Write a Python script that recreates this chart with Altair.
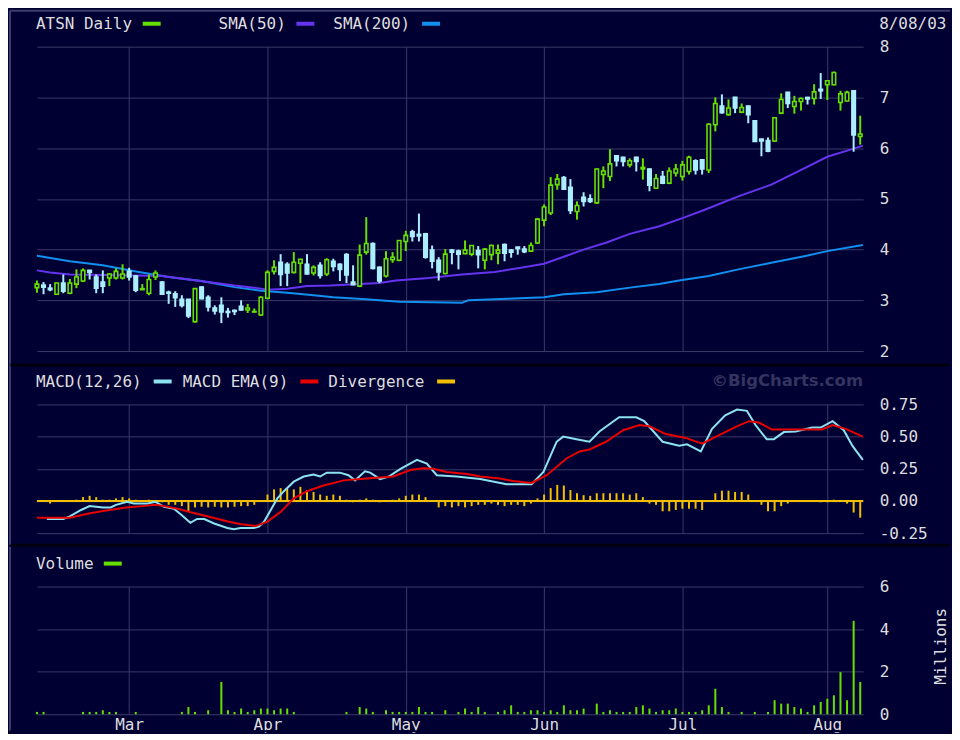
import altair as alt
import pandas as pd

# ---------------- data ----------------
month_idx = [14, 35, 56, 77, 98, 120]
month_names = ["Mar", "Apr", "May", "Jun", "Jul", "Aug"]
price_ticks = [2, 3, 4, 5, 6, 7, 8]
macd_ticks = [-0.25, 0, 0.25, 0.5, 0.75]
volume_ticks = [0, 2, 4, 6]

opens = [3.25, 3.30, 3.24, 3.12, 3.34, 3.14, 3.32, 3.38, 3.59, 3.46,
         3.36, 3.44, 3.44, 3.44, 3.57, 3.48, 3.21, 3.14, 3.46, 3.36,
         3.16, 3.13, 3.02, 3.02, 2.58, 3.26, 3.06, 2.85, 2.90, 2.78,
         2.80, 2.88, 2.81, 2.77, 2.71, 3.04, 3.57, 3.75, 3.71, 3.55,
         3.73, 3.71, 3.54, 3.69, 3.52, 3.77, 3.71, 3.90, 3.36, 3.28,
         3.95, 4.12, 3.65, 3.48, 3.80, 3.79, 4.16, 4.35, 4.30, 4.31,
         3.99, 3.79, 3.53, 3.99, 3.97, 3.92, 3.91, 3.98, 3.79, 3.90,
         3.93, 4.10, 3.99, 4.05, 4.01, 3.97, 4.13, 4.58, 4.72, 5.28,
         5.42, 5.23, 4.75, 5.03, 5.00, 4.92, 5.48, 5.44, 5.85, 5.82,
         5.67, 5.82, 5.59, 5.59, 5.21, 5.44, 5.31, 5.51, 5.44, 5.54,
         5.75, 5.77, 5.57, 6.46, 6.83, 6.66, 7.00, 6.71, 6.83, 6.54,
         6.18, 6.15, 6.14, 6.69, 7.10, 6.82, 6.92, 7.00, 6.98, 7.16,
         7.25, 7.25, 6.90, 6.93, 7.13, 6.23]
highs = [3.39, 3.36, 3.32, 3.34, 3.51, 3.42, 3.61, 3.63, 3.59, 3.51,
         3.59, 3.53, 3.63, 3.71, 3.64, 3.50, 3.32, 3.51, 3.59, 3.38,
         3.19, 3.18, 3.10, 3.02, 3.24, 3.28, 3.10, 2.90, 3.06, 2.85,
         2.82, 3.00, 2.93, 2.84, 3.08, 3.59, 3.79, 3.91, 3.75, 3.95,
         3.81, 3.91, 3.69, 3.75, 3.83, 3.82, 3.73, 3.93, 3.69, 4.10,
         4.64, 4.14, 3.67, 3.97, 3.95, 4.18, 4.37, 4.39, 4.71, 4.33,
         4.08, 3.85, 4.01, 4.01, 4.00, 4.18, 4.09, 4.07, 4.03, 4.10,
         4.10, 4.12, 4.01, 4.05, 4.07, 4.14, 4.62, 4.89, 5.43, 5.49,
         5.45, 5.39, 4.95, 5.13, 5.09, 5.60, 5.64, 5.98, 5.86, 5.83,
         5.80, 5.83, 5.80, 5.60, 5.49, 5.55, 5.62, 5.69, 5.75, 5.85,
         5.78, 5.78, 6.49, 7.00, 7.06, 6.96, 7.01, 6.88, 6.84, 6.55,
         6.18, 6.21, 6.61, 7.08, 7.11, 7.03, 7.00, 7.01, 7.26, 7.48,
         7.33, 7.51, 7.13, 7.13, 7.14, 6.64]
lows = [3.15, 3.12, 3.18, 3.12, 3.14, 3.12, 3.24, 3.36, 3.41, 3.14,
        3.14, 3.28, 3.41, 3.41, 3.39, 3.16, 3.21, 3.10, 3.40, 3.12,
        2.93, 2.87, 2.86, 2.65, 2.56, 3.02, 2.78, 2.72, 2.55, 2.66,
        2.71, 2.80, 2.75, 2.76, 2.69, 3.02, 3.51, 3.28, 3.28, 3.53,
        3.34, 3.51, 3.49, 3.43, 3.48, 3.57, 3.38, 3.34, 3.30, 3.26,
        3.90, 3.61, 3.34, 3.45, 3.74, 3.77, 3.97, 4.16, 4.16, 3.82,
        3.63, 3.39, 3.51, 3.71, 3.61, 3.91, 3.87, 3.63, 3.61, 3.79,
        3.71, 3.77, 3.84, 3.90, 3.93, 3.96, 4.11, 4.46, 4.68, 5.18,
        5.18, 4.70, 4.59, 4.85, 4.92, 4.90, 5.21, 5.35, 5.64, 5.64,
        5.62, 5.54, 5.38, 5.15, 5.20, 5.29, 5.29, 5.44, 5.36, 5.48,
        5.48, 5.48, 5.51, 6.33, 6.68, 6.64, 6.69, 6.69, 6.49, 6.12,
        5.84, 5.92, 6.12, 6.67, 6.79, 6.68, 6.74, 6.86, 6.86, 6.97,
        6.95, 7.24, 6.74, 6.92, 5.93, 6.07]
closes = [3.32, 3.26, 3.21, 3.34, 3.18, 3.34, 3.46, 3.59, 3.55, 3.24,
          3.28, 3.52, 3.57, 3.52, 3.46, 3.20, 3.23, 3.41, 3.54, 3.12,
          3.14, 3.05, 2.90, 2.69, 3.23, 3.03, 2.87, 2.79, 2.77, 2.76,
          2.78, 2.81, 2.85, 2.78, 3.06, 3.55, 3.65, 3.51, 3.54, 3.75,
          3.81, 3.52, 3.65, 3.49, 3.80, 3.67, 3.61, 3.50, 3.31, 3.89,
          4.12, 3.63, 3.38, 3.82, 3.85, 4.18, 4.28, 4.26, 4.27, 3.85,
          3.77, 3.56, 3.91, 3.95, 3.91, 3.99, 4.08, 3.90, 4.01, 4.08,
          3.99, 3.93, 3.95, 4.02, 3.96, 4.08, 4.60, 4.84, 5.27, 5.39,
          5.19, 4.77, 4.87, 4.95, 4.95, 5.59, 5.55, 5.69, 5.75, 5.74,
          5.75, 5.74, 5.62, 5.27, 5.40, 5.31, 5.55, 5.59, 5.67, 5.82,
          5.57, 5.59, 6.47, 6.88, 6.70, 6.79, 6.79, 6.80, 6.66, 6.13,
          6.14, 5.94, 6.60, 6.96, 6.88, 6.92, 6.98, 6.97, 7.11, 7.13,
          7.33, 7.49, 7.07, 7.10, 6.26, 6.28]

sma50_i = [0, 2, 5, 10, 15, 19, 23, 26, 30, 33, 35, 38, 41, 44.5, 52, 54.5, 59.5,
           64.5, 69.5, 73.5, 77, 80, 83, 86.5, 90, 94.5, 98, 101.5, 106.5, 111.5,
           116.5, 120, 124, 125.4]
sma50_v = [3.59, 3.55, 3.51, 3.50, 3.49, 3.48, 3.41, 3.36, 3.29, 3.25, 3.21, 3.23,
           3.28, 3.29, 3.34, 3.39, 3.44, 3.51, 3.56, 3.64, 3.72, 3.86, 4.00, 4.14,
           4.31, 4.46, 4.62, 4.79, 5.05, 5.28, 5.60, 5.83, 5.99, 6.05]
sma200_i = [0, 5, 10, 15, 20, 25, 30, 34, 38, 42, 45, 50, 55, 60, 64.5, 65.5, 71.5,
            77, 80, 85, 90, 94.5, 97.5, 102, 106.5, 111.5, 116.5, 120, 125.4]
sma200_v = [3.88, 3.77, 3.69, 3.57, 3.46, 3.38, 3.26, 3.19, 3.15, 3.10, 3.06, 3.02,
            2.97, 2.96, 2.95, 3.00, 3.03, 3.06, 3.12, 3.16, 3.25, 3.32, 3.39, 3.48,
            3.61, 3.74, 3.87, 3.97, 4.09]

macd_i = [1.5, 4, 5, 6.7, 8, 10, 11.2, 12, 13.7, 14.7, 16.8, 18, 19.3, 20.8, 22, 23.3,
          24.3, 25.4, 26.9, 28.9, 29.9, 30.9, 32.9, 33.7, 34.5, 35.5, 36.5, 37.5, 39,
          40.5, 42, 43, 44, 46, 47.3, 48.3, 49.8, 50.6, 52.1, 53.4, 55.2, 57.7, 59.2,
          60.7, 63.7, 67.3, 71.3, 75.1, 76.9, 78.9, 79.9, 81.9, 83.9, 85.4, 88.4, 91,
          92.2, 95, 97.5, 98.7, 100.8, 102.5, 104.5, 106.3, 107.8, 109.1, 110.8, 111.9,
          113.4, 115.2, 117.7, 119, 120.8, 122.5, 123.8, 125.4]
macd_v = [-0.14, -0.14, -0.12, -0.07, -0.04, -0.05, -0.05, -0.03, -0.007, -0.02,
          -0.02, -0.007, -0.046, -0.06, -0.11, -0.17, -0.14, -0.14, -0.175, -0.21,
          -0.22, -0.21, -0.21, -0.20, -0.16, -0.07, 0.02, 0.076, 0.15, 0.19,
          0.205, 0.19, 0.22, 0.22, 0.20, 0.16, 0.23, 0.22, 0.17, 0.19,
          0.25, 0.32, 0.29, 0.20, 0.19, 0.17, 0.13, 0.13, 0.225, 0.46,
          0.50, 0.48, 0.46, 0.54, 0.65, 0.65, 0.62, 0.46, 0.43, 0.44,
          0.385, 0.56, 0.665, 0.71, 0.70, 0.59, 0.48, 0.48, 0.535, 0.54,
          0.57, 0.57, 0.62, 0.55, 0.43, 0.32]
signal_i = [0, 5, 7.7, 9.8, 13.5, 16, 18, 19.3, 21.4, 23.2, 26, 29, 31, 33.2, 35, 37,
            39, 41, 43.5, 46.6, 49.1, 51.6, 54.1, 56.7, 58.7, 60.2, 62.2, 65.3, 67.3,
            70.3, 72.3, 75.1, 77.4, 80.4, 82.4, 83.9, 86.4, 89, 91.5, 93, 95.5, 98.5,
            101, 103.5, 106.1, 108.1, 109.6, 111.6, 114.6, 119.2, 120.8, 122.8, 125.4]
signal_v = [-0.13, -0.13, -0.10, -0.08, -0.05, -0.04, -0.03, -0.04, -0.06, -0.085,
            -0.12, -0.16, -0.18, -0.195, -0.16, -0.085, 0.02, 0.076, 0.12, 0.16,
            0.17, 0.18, 0.19, 0.24, 0.255, 0.25, 0.225, 0.21, 0.19, 0.175,
            0.155, 0.14, 0.20, 0.33, 0.385, 0.40, 0.46, 0.55, 0.59, 0.58,
            0.52, 0.49, 0.445, 0.51, 0.575, 0.62, 0.61, 0.555, 0.555, 0.555,
            0.59, 0.56, 0.50]
divergence = [0, 0, -0.02, 0, 0, 0, 0.01, 0.03, 0.04, 0.03,
              0.01, 0.01, 0.02, 0.03, 0.02, 0.01, 0, 0.01, 0, -0.01,
              -0.03, -0.03, -0.04, -0.08, -0.05, -0.045, -0.05, -0.045, -0.05, -0.05,
              -0.045, -0.04, -0.04, -0.03, 0, 0.05, 0.09, 0.10, 0.095, 0.09,
              0.11, 0.085, 0.07, 0.05, 0.04, 0.05, 0.04, 0.01, -0.01, 0.01,
              0.02, 0.01, -0.01, 0, 0.01, 0.02, 0.04, 0.05, 0.05, 0.03,
              0, -0.05, -0.04, -0.05, -0.04, -0.05, -0.04, -0.03, -0.03, -0.02,
              -0.03, -0.04, -0.03, -0.03, -0.04, -0.02, 0.02, 0.05, 0.10, 0.125,
              0.12, 0.085, 0.06, 0.045, 0.04, 0.06, 0.06, 0.06, 0.06, 0.06,
              0.05, 0.06, 0.03, -0.02, -0.03, -0.08, -0.08, -0.07, -0.06, -0.06,
              -0.06, -0.07, 0, 0.06, 0.08, 0.08, 0.07, 0.07, 0.05, 0,
              -0.03, -0.08, -0.08, -0.04, -0.02, 0, 0, 0, 0, -0.01,
              -0.01, 0.01, 0, -0.02, -0.09, -0.13]
volume_m = [0.11, 0.11, 0, 0, 0, 0, 0, 0.11, 0.11, 0.11,
            0.19, 0.11, 0.11, 0, 0, 0.11, 0, 0, 0, 0,
            0, 0, 0.11, 0.34, 0.11, 0, 0.19, 0, 1.52, 0.19,
            0.11, 0.27, 0.11, 0.19, 0.27, 0.27, 0.19, 0.27, 0.27, 0.11,
            0, 0, 0, 0, 0, 0, 0, 0.11, 0, 0.34,
            0.27, 0.11, 0, 0.19, 0.11, 0.11, 0.11, 0.11, 0.34, 0.11,
            0.11, 0, 0.19, 0, 0.11, 0.27, 0.11, 0.34, 0.11, 0,
            0.11, 0.19, 0.42, 0.11, 0.11, 0.19, 0.19, 0.11, 0.19, 0.11,
            0.42, 0.19, 0.19, 0.27, 0, 0.5, 0.11, 0.19, 0.11, 0.11,
            0.11, 0.34, 0.42, 0.27, 0.11, 0.19, 0.19, 0.27, 0.11, 0.11,
            0.11, 0.19, 0.42, 1.2, 0.34, 0.11, 0, 0.11, 0, 0.11,
            0, 0.11, 0.66, 0.5, 0.5, 0.34, 0.27, 0.11, 0.42, 0.58,
            0.73, 0.89, 1.98, 0.66, 4.39, 1.52]

# ---------------- style ----------------
NAVY = "#000033"
GRID = "#3a3a68"
FRAME = "#3c3c6a"
SEP = "#00000e"
TXT = "#dedede"
GREEN = "#66e000"
CYAN = "#aaeeff"
SMA50C = "#6633ee"
SMA200C = "#1190f0"
MACDC = "#8ce2ee"
SIGC = "#e80000"
DIVC = "#f0c000"
FONT = "DejaVu Sans Mono"
W = 828
LEFT, RIGHT = -28, 916  # frame edges relative to the plot's left edge
N = len(opens)

month_expr = " : ".join(f"datum.value == {i} ? '{n}'" for i, n in zip(month_idx, month_names)) + " : ''"
XS = alt.Scale(domain=[0, 125.45], nice=False, zero=False, padding=0)


def xaxis(show_labels=False):
    kw = dict(values=month_idx, grid=True, gridColor=GRID, gridWidth=1, ticks=False,
              domain=False, title=None, labels=show_labels)
    if show_labels:
        kw.update(labelExpr=month_expr, labelFont=FONT, labelFontSize=16, labelColor=TXT,
                  labelPadding=10, labelBaseline="middle", labelFlush=False,
                  labelOverlap=False, labelAlign="center")
    return alt.Axis(**kw)


def X(show_labels=False):
    return alt.X("i:Q", scale=XS, axis=xaxis(show_labels))


def yaxis(values, expr=None):
    kw = dict(values=values, orient="right", grid=True, gridColor=GRID, gridWidth=1,
              ticks=False, domain=False, labelPadding=16, labelAlign="left",
              labelBaseline="middle", labelColor=TXT, labelFont=FONT, labelFontSize=16,
              labelOverlap=False, title=None)
    if expr:
        kw["labelExpr"] = expr
    return alt.Axis(**kw)


def text(s, x, y, color=TXT, size=16, font=FONT, weight="normal", angle=0, align="left"):
    return alt.Chart(pd.DataFrame({"t": [s]})).mark_text(
        align=align, baseline="middle", font=font, fontSize=size, fontWeight=weight,
        color=color, angle=angle).encode(x=alt.value(x), y=alt.value(y), text="t:N")


def swatch(x, y, color):
    return alt.Chart(pd.DataFrame({"t": [0]})).mark_rule(color=color, strokeWidth=4).encode(
        x=alt.value(x), x2=alt.value(x + 18), y=alt.value(y))


def hline(y, color=FRAME, w=2):
    # rule bounds include half the stroke on every side, so inset the ends
    return alt.Chart(pd.DataFrame({"t": [0]})).mark_rule(color=color, strokeWidth=w).encode(
        x=alt.value(LEFT + w / 2), x2=alt.value(RIGHT - w / 2), y=alt.value(y))


def vline(x, y0, y1, color=FRAME, w=2):
    return alt.Chart(pd.DataFrame({"t": [0]})).mark_rule(color=color, strokeWidth=w).encode(
        x=alt.value(x), y=alt.value(y0), y2=alt.value(y1))


# ---------------- price panel ----------------
candles = pd.DataFrame({"i": list(range(N)), "o": opens, "h": highs, "l": lows, "c": closes})
PY = alt.Scale(domain=[2, 8], nice=False, zero=False, padding=0)
pa = yaxis(price_ticks)
up = "datum.c >= datum.o"

sma200 = alt.Chart(pd.DataFrame({"i": sma200_i, "v": sma200_v})).mark_line(
    color=SMA200C, strokeWidth=2).encode(x=X(), y=alt.Y("v:Q", scale=PY, axis=pa))
sma50 = alt.Chart(pd.DataFrame({"i": sma50_i, "v": sma50_v})).mark_line(
    color=SMA50C, strokeWidth=2).encode(x=X(), y=alt.Y("v:Q", scale=PY, axis=pa))
wicks = alt.Chart(candles).mark_rule(strokeWidth=2).encode(
    x=X(), y=alt.Y("l:Q", scale=PY, axis=pa), y2="h:Q",
    color=alt.condition(up, alt.value(GREEN), alt.value(CYAN)))
bodies = alt.Chart(candles).mark_bar(size=3.5, strokeWidth=1.6).encode(
    x=X(), y=alt.Y("o:Q", scale=PY, axis=pa), y2="c:Q",
    fill=alt.condition(up, alt.value(NAVY), alt.value(CYAN)),
    stroke=alt.condition(up, alt.value(GREEN), alt.value(CYAN)))

top = alt.layer(
    sma200, sma50, wicks, bodies,
    hline(-36), vline(-27, -36, 320),
    text("ATSN Daily", -1, -23), swatch(106, -23, GREEN),
    text("SMA(50)", 182, -23), swatch(260, -23, SMA50C),
    text("SMA(200)", 297, -23), swatch(386, -23, SMA200C),
    text("8/08/03", 844, -23),
).properties(width=W, height=305)

# ---------------- MACD panel ----------------
MY = alt.Scale(domain=[-0.25, 0.75], nice=False, zero=False, padding=0)
ma = yaxis(macd_ticks, "replace(format(datum.value, '.2f'), '\u2212', '-')")
divdf = pd.DataFrame({"i": list(range(N)), "d": divergence, "z": [0] * N})

zero_line = alt.Chart(pd.DataFrame({"z": [0]})).mark_rule(color=DIVC, strokeWidth=2).encode(
    y=alt.Y("z:Q", scale=MY, axis=ma))
div_bars = alt.Chart(divdf).mark_rule(color=DIVC, strokeWidth=2).encode(
    x=X(), y=alt.Y("d:Q", scale=MY, axis=ma), y2="z:Q")
macd_line = alt.Chart(pd.DataFrame({"i": macd_i, "v": macd_v})).mark_line(
    color=MACDC, strokeWidth=2).encode(x=X(), y=alt.Y("v:Q", scale=MY, axis=ma))
sig_line = alt.Chart(pd.DataFrame({"i": signal_i, "v": signal_v})).mark_line(
    color=SIGC, strokeWidth=2).encode(x=X(), y=alt.Y("v:Q", scale=MY, axis=ma))

macd = alt.layer(
    div_bars, zero_line, macd_line, sig_line,
    vline(-27, -40, 141), hline(-39.5, SEP, 3), hline(141, SEP, 3),
    text("MACD(12,26)", -1, -22.5), swatch(117, -23, MACDC),
    text("MACD EMA(9)", 146, -22.5), swatch(264, -23, SIGC),
    text("Divergence", 292, -22.5), swatch(401, -23, DIVC),
    text("\u00a9BigCharts.com", 676, -23, color="#34345f", size=16.5,
         font="DejaVu Sans", weight="bold"),
).properties(width=W, height=129)

# ---------------- volume panel ----------------
VY = alt.Scale(domain=[0, 6], nice=False, zero=False, padding=0)
va = yaxis(volume_ticks)
voldf = pd.DataFrame({"i": list(range(N)), "v": volume_m, "z": [0] * N})
vol_bars = alt.Chart(voldf).mark_rule(color=GREEN, strokeWidth=2).encode(
    x=X(True), y=alt.Y("v:Q", scale=VY, axis=va), y2="z:Q")

vol = alt.layer(
    vol_bars,
    vline(-27, -40, 145), hline(145, color=NAVY),
    text("Volume", -1, -23), swatch(67, -23, GREEN),
    text("Millions", 906, 60, angle=270, align="center"),
).properties(width=W, height=128)

chart = alt.vconcat(top, macd, vol, spacing=53.5, bounds="flush").resolve_scale(
    x="independent", y="independent"
).properties(padding=0, background=NAVY).configure_view(stroke="transparent")

chart.save("out.html", embed_options={"renderer": "svg", "actions": False})
